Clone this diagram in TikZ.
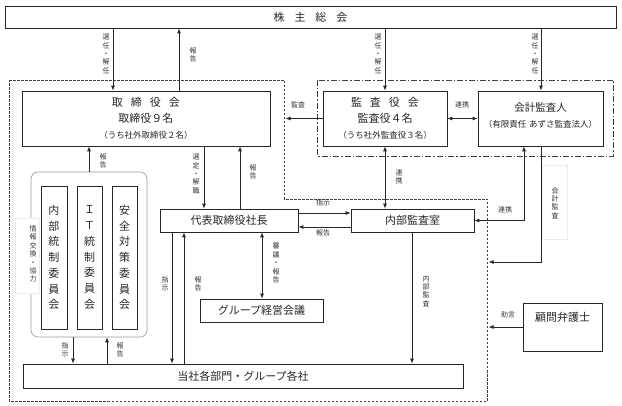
\documentclass[tikz,border=0pt]{standalone}
\usepackage{fontspec}
\setmainfont{Noto Sans CJK JP}
\usetikzlibrary{arrows.meta}
\begin{document}
\begin{tikzpicture}[x=1pt,y=-1pt,
  box/.style={draw=black!85, line width=0.7pt, inner sep=0pt, text=black!85, align=center},
  main/.style={font=\fontsize{11}{15.5}\selectfont},
  lab/.style={font=\fontsize{7}{8.4}\selectfont, align=center, inner sep=0pt, text=black!80},
  comm/.style={box, minimum height=143pt, font=\fontsize{11}{15.7}\selectfont},
  arr/.style={-{Latex[length=5pt,width=4pt]}, line width=0.8pt, draw=black!85},
  darr/.style={{Latex[length=5pt,width=4pt]}-{Latex[length=5pt,width=4pt]}, line width=0.8pt, draw=black!85},
  dashline/.style={draw=black!75, line width=0.7pt, dash pattern=on 2.5pt off 1.5pt},
  dashdot/.style={draw=black!75, line width=0.7pt, dash pattern=on 6pt off 2pt on 1.5pt off 2pt},
  faint/.style={fill=white, draw=black!8, line width=0.4pt}]
\useasboundingbox (0,0) rectangle (622,406);

% outer frames
\draw[dashline] (9,80) -- (284,80) -- (284,199) -- (487,199) -- (487,401) -- (9,401) -- cycle;
\draw[dashdot] (317,80) rectangle (613,156);

% boxes
\node[box, main, minimum width=611pt, minimum height=22pt] (share) at (310.5,17)
  {株\hspace{10pt}主\hspace{10pt}総\hspace{10pt}会};
\node[box, main, minimum width=248pt, minimum height=55pt] (board) at (146,118.5)
  {取\hspace{8pt}締\hspace{8pt}役\hspace{8pt}会\\取締役９名\\[1pt]{\fontsize{8.5}{10}\selectfont （うち社外取締役２名）}};
\node[box, main, minimum width=124pt, minimum height=55pt] (kansa) at (385,118.5)
  {監\hspace{8pt}査\hspace{8pt}役\hspace{8pt}会\\監査役４名\\[1pt]{\fontsize{8.5}{10}\selectfont （うち社外監査役３名）}};
\node[box, minimum width=125pt, minimum height=55pt,
  label={[name=kaikeitext, align=center, text=black!85, yshift=3pt, font=\fontsize{10.5}{17}\selectfont]center:会計監査人\\{\fontsize{8.5}{10}\selectfont （有限責任\hspace{3pt}あずさ監査法人）}}] (kaikei) at (540.5,118.5) {};
\node[box, main, minimum width=138pt, minimum height=23pt] (shacho) at (229,220.5) {代表取締役社長};
\node[box, main, minimum width=123pt, minimum height=23pt] (naibu) at (412.5,220.5) {内部監査室};
\node[box, main, minimum width=123pt, minimum height=23pt] (meeting) at (261.5,310.5) {グループ経営会議};
\node[box, main, minimum width=440pt, minimum height=24pt] (div) at (243,376) {当社各部門・グループ各社};
\node[box, minimum width=79pt, minimum height=48pt,
  label={[name=lawyertext, text=black!85, yshift=10pt, font=\fontsize{11}{13}\selectfont]center:顧問弁護士}] (lawyer) at (562.5,327) {};

% committees
\node[draw=black!40, line width=0.6pt, rounded corners=7pt, minimum width=116pt, minimum height=165pt] (grp) at (89,254.5) {};
\node[comm, minimum width=26pt] (c1) at (54,257.5) {内\\部\\統\\制\\委\\員\\会};
\node[comm, minimum width=25pt] (c2) at (89.5,257.5) {Ｉ\\Ｔ\\統\\制\\委\\員\\会};
\node[comm, minimum width=25pt] (c3) at (124.5,257.5) {安\\全\\対\\策\\委\\員\\会};
\path[faint] (15,218) rectangle (39,293);
\node[lab] (info) at (33,254) {情\\報\\交\\換\\・\\協\\力};
\path[faint] (542,165) rectangle (567,239);

% free ends on the frame
\coordinate (auditend) at (285.5,118.5);
\coordinate (kaikeiend) at (488.5,262);
\coordinate (lawend) at (488.5,327);

% connectors
\draw[arr] (share.south -| 113,0) -- (board.north -| 113,0);
\draw[arr] (board.north -| 179,0) -- (share.south -| 179,0);
\draw[arr] (share.south -| 385,0) -- (kansa.north -| 385,0);
\draw[arr] (share.south -| 541,0) -- (kaikei.north -| 541,0);
\draw[arr] (kansa.west) -- (auditend);
\draw[darr] (kansa.east) -- (kaikei.west);
\draw[darr] (kansa.south) -- (naibu.north -| kansa.south);
\draw[darr] (kaikei.south -| 524,0) |- (naibu.east);
\draw[arr] (kaikei.south -| 541,0) |- (kaikeiend);
\draw[arr] (board.south -| 204,0) -- (shacho.north -| 204,0);
\draw[arr] (shacho.north -| 240,0) -- (board.south -| 240,0);
\draw[arr] (shacho.east |- 0,213) -- (naibu.west |- 0,213);
\draw[arr] (naibu.west |- 0,227) -- (shacho.east |- 0,227);
\draw[darr] (shacho.south -| 262,0) -- (meeting.north -| 262,0);
\draw[arr] (shacho.south -| 172,0) -- (div.north -| 172,0);
\draw[arr] (div.north -| 184,0) -- (shacho.south -| 184,0);
\draw[arr] (grp.north -| 89,0) -- (board.south -| 89,0);
\draw[arr] (grp.south -| 73,0) -- (div.north -| 73,0);
\draw[arr] (div.north -| 107,0) -- (grp.south -| 107,0);
\draw[arr] (naibu.south -| 412,0) -- (div.north -| 412,0);
\draw[arr] (lawyer.west) -- (lawend);

% labels
\node[lab] (l1) at (106,54) {選\\任\\・\\解\\任};
\node[lab] (l2) at (193,55) {報\\告};
\node[lab] (l3) at (378,54) {選\\任\\・\\解\\任};
\node[lab] (l4) at (535,54) {選\\任\\・\\解\\任};
\node[lab] (l5) at (298,105) {監査};
\node[lab] (l6) at (462,105) {連携};
\node[lab] (l7) at (399,177) {連\\携};
\node[lab] (l8) at (505,210) {連携};
\node[lab] (l9) at (555,203) {会\\計\\監\\査};
\node[lab] (l10) at (196,174) {選\\定\\・\\解\\職};
\node[lab] (l11) at (253,172) {報\\告};
\node[lab] (l12) at (323,203) {指示};
\node[lab] (l13) at (323,233) {報告};
\node[lab] (l14) at (276,263) {審\\議\\・\\報\\告};
\node[lab] (l15) at (165,284) {指\\示};
\node[lab] (l16) at (198,284) {報\\告};
\node[lab] (l17) at (103,161) {報\\告};
\node[lab] (l18) at (65,350) {指\\示};
\node[lab] (l19) at (120,350) {報\\告};
\node[lab] (l20) at (426,291) {内\\部\\監\\査};
\node[lab] (l21) at (508,315) {助言};
\end{tikzpicture}
\end{document}
